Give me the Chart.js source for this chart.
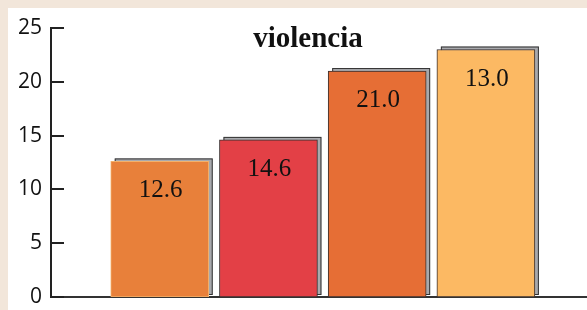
<!DOCTYPE html>
<html>
<head>
<meta charset="utf-8">
<script src="https://cdn.jsdelivr.net/npm/chart.js@4"></script>
<style>
  html, body { margin: 0; padding: 0; background: #f2e6da; }
  #panel { position: absolute; left: 8px; top: 8px; width: 579px; height: 302px; background: #ffffff; }
  canvas { display: block; }
</style>
</head>
<body>
<div id="panel"><canvas id="c" width="579" height="302"></canvas></div>
<script>
const titleText = 'violencia';
const positions = [1, 2, 3, 4];
const values = [12.6, 14.6, 21.0, 23.0];
const valueLabels = ['12.6', '14.6', '21.0', '13.0'];
const colors = ['#e8803a', '#e34046', '#e66e35', '#fcb963'];
const borderColors = ['#f3b06a', '#3a3030', '#3a3030', '#3a3030'];
const yTicks = [0, 5, 10, 15, 20, 25];

const shadowPlugin = {
  id: 'shadow',
  beforeDatasetsDraw(chart) {
    const ctx = chart.ctx;
    const meta = chart.getDatasetMeta(0);
    ctx.save();
    meta.data.forEach((bar) => {
      const w = bar.width;
      const left = bar.x - w / 2 + 4;
      const top = bar.y - 3;
      const bottom = bar.base - 2;
      ctx.fillStyle = '#a8a9ad';
      ctx.strokeStyle = '#333333';
      ctx.lineWidth = 1;
      ctx.fillRect(left, top, w, bottom - top);
      ctx.strokeRect(left + 0.5, top + 0.5, w - 1, bottom - top - 1);
    });
    ctx.restore();
  },
  afterDatasetsDraw(chart) {
    const ctx = chart.ctx;
    const meta = chart.getDatasetMeta(0);
    ctx.save();
    ctx.fillStyle = '#111111';
    ctx.font = '25px "Liberation Serif", serif';
    ctx.textAlign = 'center';
    ctx.textBaseline = 'alphabetic';
    meta.data.forEach((bar, i) => {
      ctx.fillText(valueLabels[i], bar.x + 1, bar.y + 36);
    });
    // title
    ctx.font = 'bold 29px "Liberation Serif", serif';
    ctx.fillText(titleText, 300, 39);
    // inward y ticks
    const ys = chart.scales.y;
    ctx.strokeStyle = '#222222';
    ctx.lineWidth = 2;
    yTicks.forEach(v => {
      const y = Math.round(ys.getPixelForValue(v));
      ctx.beginPath();
      ctx.moveTo(ys.right, y);
      ctx.lineTo(ys.right + 13, y);
      ctx.stroke();
    });
    ctx.restore();
  }
};

new Chart(document.getElementById('c'), {
  type: 'bar',
  data: {
    datasets: [{
      data: positions.map((p, i) => ({ x: p, y: values[i] })),
      backgroundColor: colors,
      borderColor: borderColors,
      borderWidth: 1,
      borderSkipped: false,
      barThickness: 98
    }]
  },
  options: {
    responsive: false,
    animation: false,
    layout: { padding: { left: 0, right: 0, top: 20, bottom: 13 } },
    plugins: { legend: { display: false }, tooltip: { enabled: false }, title: { display: false } },
    scales: {
      x: {
        type: 'linear',
        offset: false,
        min: 0,
        max: 4.93,
        ticks: { display: false },
        grid: { display: false, drawTicks: false, offset: false },
        border: { display: true, color: '#333333', width: 2 },
        afterFit(s) { s.height = 0; s.paddingLeft = 0; s.paddingRight = 0; }
      },
      y: {
        min: 0,
        max: 25,
        afterBuildTicks(s) { s.ticks = yTicks.map(v => ({ value: v })); },
        ticks: { color: '#111111', padding: 9, font: { family: '"Open Sans", sans-serif', size: 21 } },
        grid: { display: false, drawTicks: false },
        border: { display: true, color: '#222222', width: 2 },
        afterFit(s) { s.width = 43; s.paddingTop = 0; s.paddingBottom = 0; }
      }
    }
  },
  plugins: [shadowPlugin]
});
</script>
</body>
</html>
